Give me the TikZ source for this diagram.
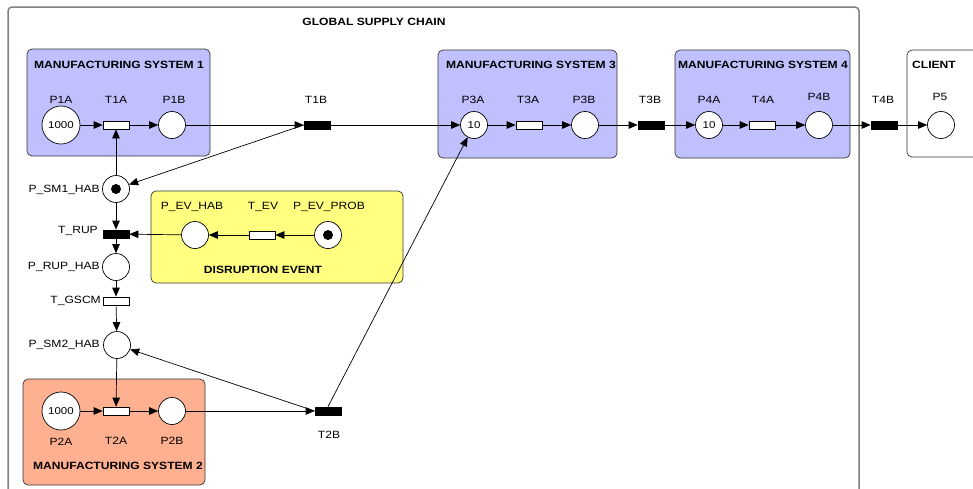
\documentclass[tikz,border=0pt]{standalone}
\usepackage{fontspec}
\setmainfont{Liberation Sans}[FakeStretch=1.15]
\usetikzlibrary{arrows.meta}
\definecolor{msblue}{RGB}{192,192,255}
\definecolor{mssalmon}{RGB}{255,176,144}
\definecolor{evyellow}{RGB}{255,255,128}
\definecolor{framegray}{RGB}{128,128,128}
\begin{document}
\begin{tikzpicture}[x=1pt,y=-1pt,
  place/.style={circle,draw=black,line width=0.7pt,fill=white,minimum size=27pt,inner sep=0pt,font=\fontsize{10}{11}\selectfont},
  bigplace/.style={place,minimum size=38pt},
  wtrans/.style={rectangle,draw=black,line width=0.7pt,fill=white,minimum width=26pt,minimum height=8pt,inner sep=0pt},
  btrans/.style={wtrans,fill=black},
  lbl/.style={font=\fontsize{10.5}{12}\selectfont,inner sep=0pt},
  ttl/.style={font=\fontsize{10.5}{12}\selectfont\bfseries,inner sep=0pt},
  arc/.style={line width=0.7pt,-{Triangle[length=9pt,width=7.5pt]}},
  box/.style={draw=black!80,line width=0.7pt,rounded corners=5pt},
  token/.style={circle,fill=black,minimum size=10pt,inner sep=0pt}
]
\useasboundingbox (0,0) rectangle (973,488);
\clip (0,0) rectangle (973,488);
\fill[white] (0,0) rectangle (973,488);

% frames
\draw[framegray,line width=1.5pt,rounded corners=4pt] (8,500) -- (8,7) -- (859,7) -- (859,500);
\node[ttl] (tglobal) at (374,22) {GLOBAL SUPPLY CHAIN};

\draw[box,fill=msblue] (27,49) rectangle (210,156);
\node[ttl] (tms1) at (119,65) {MANUFACTURING SYSTEM 1};
\draw[box,fill=msblue] (438,50) rectangle (617,158);
\node[ttl] (tms3) at (531,65) {MANUFACTURING SYSTEM 3};
\draw[box,fill=msblue] (675,50) rectangle (850,158);
\node[ttl] (tms4) at (763,65) {MANUFACTURING SYSTEM 4};
\draw[box,fill=mssalmon] (23,379) rectangle (205,485);
\node[ttl] (tms2) at (118,466) {MANUFACTURING SYSTEM 2};
\draw[box,fill=evyellow] (151,191) rectangle (403,283);
\node[ttl] (tdis) at (263,270) {DISRUPTION EVENT};
\draw[box,fill=white] (907,50) rectangle (990,157);
\node[ttl] (tcli) at (934,65) {CLIENT};

% top row
\node[bigplace] (p1a) at (61,125) {1000};
\node[wtrans] (t1a) at (116,125) {};
\node[place] (p1b) at (172,125) {};
\node[btrans] (t1b) at (317,125) {};
\node[place] (p3a) at (474,125) {10};
\node[wtrans] (t3a) at (529,125) {};
\node[place] (p3b) at (585,125) {};
\node[btrans] (t3b) at (651,125) {};
\node[place] (p4a) at (709,125) {10};
\node[wtrans] (t4a) at (762,125) {};
\node[place] (p4b) at (819,125) {};
\node[btrans] (t4b) at (884,125) {};
\node[place] (p5) at (941,125) {};

\node[lbl] (lp1a) at (61,100) {P1A};
\node[lbl] (lt1a) at (116,100) {T1A};
\node[lbl] (lp1b) at (174,100) {P1B};
\node[lbl] (lt1b) at (316,100) {T1B};
\node[lbl] (lp3a) at (473,100) {P3A};
\node[lbl] (lt3a) at (528,100) {T3A};
\node[lbl] (lp3b) at (584,100) {P3B};
\node[lbl] (lt3b) at (650,100) {T3B};
\node[lbl] (lp4a) at (709,100) {P4A};
\node[lbl] (lt4a) at (763,100) {T4A};
\node[lbl] (lp4b) at (819,97) {P4B};
\node[lbl] (lt4b) at (883,100) {T4B};
\node[lbl] (lp5) at (940,97) {P5};

% left column
\node[place] (psm1) at (116,189) {};
\node[token] (tok1) at (psm1) {};
\node[btrans] (trup) at (116,234) {};
\node[place] (prup) at (116,267) {};
\node[wtrans] (tgscm) at (116,301) {};
\node[place] (psm2) at (117,345) {};

\node[lbl,anchor=east] (lpsm1) at (100,190) {P\_SM1\_HAB};
\node[lbl,anchor=east] (ltrup) at (98,231) {T\_RUP};
\node[lbl,anchor=east] (lprup) at (100,267) {P\_RUP\_HAB};
\node[lbl,anchor=east] (ltgscm) at (101,301) {T\_GSCM};
\node[lbl,anchor=east] (lpsm2) at (100,345) {P\_SM2\_HAB};

% disruption event
\node[place] (pevhab) at (195,235) {};
\node[wtrans] (tev) at (262,235) {};
\node[place] (pevprob) at (328,235) {};
\node[token] (tok2) at (pevprob) {};
\node[lbl] (lpevhab) at (192,207) {P\_EV\_HAB};
\node[lbl] (ltev) at (263,207) {T\_EV};
\node[lbl] (lpevprob) at (329,207) {P\_EV\_PROB};

% bottom row
\node[bigplace] (p2a) at (61,411) {1000};
\node[wtrans] (t2a) at (116,411) {};
\node[place] (p2b) at (172,411) {};
\node[btrans] (t2b) at (328,411) {};
\node[lbl] (lp2a) at (61,442) {P2A};
\node[lbl] (lt2a) at (116,441) {T2A};
\node[lbl] (lp2b) at (172,441) {P2B};
\node[lbl] (lt2b) at (329,435) {T2B};

% connectors
\draw[arc] (p1a) -- (t1a);
\draw[arc] (t1a) -- (p1b);
\draw[arc] (p1b) -- (t1b);
\draw[arc] (t1b) -- (p3a);
\draw[arc] (p3a) -- (t3a);
\draw[arc] (t3a) -- (p3b);
\draw[arc] (p3b) -- (t3b);
\draw[arc] (t3b) -- (p4a);
\draw[arc] (p4a) -- (t4a);
\draw[arc] (t4a) -- (p4b);
\draw[arc] (p4b) -- (t4b);
\draw[arc] (t4b) -- (p5);

\draw[arc] (t1b.west) -- (psm1);
\draw[arc] (psm1) -- (t1a);
\draw[arc] (psm1) -- (trup);
\draw[arc] (pevprob) -- (tev);
\draw[arc] (tev) -- (pevhab);
\draw[arc] (pevhab) -- (trup);
\draw[arc] (trup) -- (prup);
\draw[arc] (prup) -- (tgscm);
\draw[arc] (tgscm) -- (psm2);
\draw[arc] (psm2) -- (t2a);

\draw[arc] (p2a) -- (t2a);
\draw[arc] (t2a) -- (p2b);
\draw[arc] (p2b) -- (t2b);
\draw[arc] (t2b.west) -- (psm2);
\draw[arc] (t2b.north) -- (p3a);
\end{tikzpicture}
\end{document}
